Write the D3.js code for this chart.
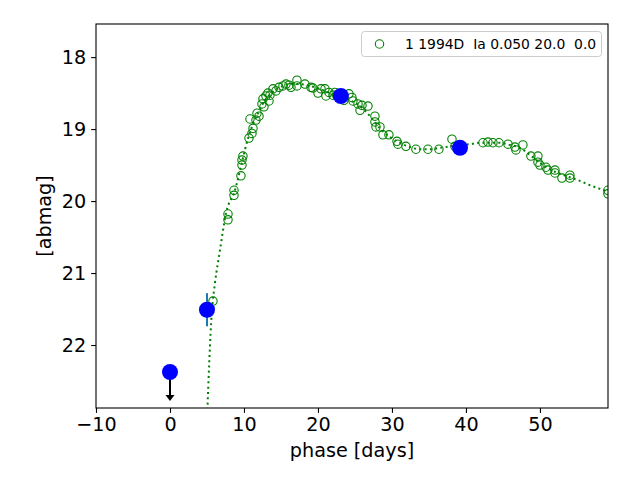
<!DOCTYPE html>
<html>
<head>
<meta charset="utf-8">
<script src="https://cdn.jsdelivr.net/npm/d3@7"></script>
<style>
  body { margin: 0; background: #fff; }
  text { font-family: "DejaVu Sans", sans-serif; }
</style>
</head>
<body>
<div id="chart"></div>
<script>
// observed photometry (phase in days, magnitude)
const obsPhase = [5.81, 7.84, 7.84, 8.65, 8.65, 9.59, 9.73, 9.73, 9.86, 10.68, 10.81, 11.08, 11.22, 11.62, 11.76, 12.03,
  12.43, 12.57, 12.70, 12.97, 13.24, 13.38, 13.51, 13.92, 14.32, 14.73, 15.27, 15.68, 16.08, 16.35, 17.16, 17.16,
  18.24, 19.05, 19.32, 20.0, 20.41, 20.95, 21.08, 21.49, 22.03, 22.30, 22.57, 23.51, 24.19, 24.59, 24.73, 25.41,
  25.68, 25.95, 26.76, 27.70, 27.70, 27.84, 28.38, 28.78, 29.59, 30.68, 30.81, 31.89, 33.24, 34.86, 36.35, 38.11,
  38.51, 42.30, 42.97, 43.65, 44.46, 45.68, 46.62, 46.76, 47.70, 48.78, 49.73, 49.73, 50.0, 50.81, 51.08, 52.03,
  52.03, 52.97, 54.05, 54.05, 59.19, 59.19];
const obsMag = [21.39, 20.18, 20.26, 19.85, 19.92, 19.65, 19.50, 19.43, 19.375, 19.125, 18.86, 19.06, 18.99, 18.875, 18.78, 18.82,
  18.65, 18.58, 18.69, 18.54, 18.50, 18.61, 18.53, 18.44, 18.47, 18.42, 18.40, 18.375, 18.39, 18.42, 18.32, 18.40,
  18.375, 18.42, 18.43, 18.50, 18.44, 18.44, 18.54, 18.49, 18.53, 18.49, 18.54, 18.60, 18.51, 18.56, 18.61, 18.65,
  18.74, 18.67, 18.68, 18.82, 18.90, 18.97, 18.97, 19.08, 19.08, 19.17, 19.21, 19.24, 19.28, 19.28, 19.28, 19.14,
  19.24, 19.19, 19.18, 19.19, 19.19, 19.21, 19.25, 19.29, 19.22, 19.375, 19.375, 19.46, 19.50, 19.53, 19.57, 19.57,
  19.61, 19.68, 19.68, 19.64, 19.85, 19.90];

// template curve
const modelPhase = [5.0, 5.64, 6.08, 6.76, 7.57, 8.78, 9.73, 10.54, 11.22, 11.89, 12.84, 13.78, 14.86, 16.22, 17.57,
  18.92, 20.27, 21.62, 22.97, 24.32, 25.68, 27.03, 28.38, 29.73, 31.08, 32.43, 33.78, 35.14, 36.49, 37.84, 39.19,
  40.54, 41.89, 43.24, 44.59, 45.95, 47.30, 48.65, 50.0, 51.35, 52.70, 54.05, 55.41, 56.76, 58.11, 59.73];
const modelMag = [23.05, 21.56, 21.14, 20.68, 20.17, 19.85, 19.46, 19.13, 18.93, 18.78, 18.60, 18.49, 18.42, 18.375, 18.375,
  18.40, 18.44, 18.50, 18.54, 18.60, 18.68, 18.82, 18.99, 19.11, 19.19, 19.25, 19.28, 19.28, 19.26, 19.24, 19.22,
  19.21, 19.19, 19.19, 19.19, 19.22, 19.26, 19.36, 19.47, 19.56, 19.62, 19.67, 19.72, 19.78, 19.83, 19.89];

// new points (blue)
const newPhase = [0, 5.0, 23.1, 39.2];
const newMag = [22.375, 21.51, 18.54, 19.26];
const newErr = [0, 0.23, 0, 0];
const upperLimit = [true, false, false, false];

const xTicks = [-10, 0, 10, 20, 30, 40, 50];
const yTicks = [18, 19, 20, 21, 22];
const legendLabel = "1 1994D  Ia 0.050 20.0  0.0";

const W = 640, H = 480;
const margin = {left: 96, top: 24, right: 32, bottom: 72};
const w = W - margin.left - margin.right;
const h = H - margin.top - margin.bottom;

const svg = d3.select("#chart").append("svg")
    .attr("width", W)
    .attr("height", H);

const x = d3.scaleLinear().domain([-10, 59.2]).range([0, w]);
const y = d3.scaleLinear().domain([17.54, 22.875]).range([0, h]);

const g = svg.append("g")
    .attr("transform", "translate(" + margin.left + "," + margin.top + ")");

g.append("clipPath").attr("id", "clip")
  .append("rect").attr("width", w).attr("height", h);

const plot = g.append("g").attr("clip-path", "url(#clip)");

// model curve
let model = modelPhase.map((p, i) => ({p: p, m: modelMag[i]}));
let line = d3.line()
    .x(d => x(d.p))
    .y(d => y(d.m))
    .curve(d3.curveMonotoneX);
plot.append("path")
    .datum(model)
    .attr("d", line)
    .attr("fill", "none")
    .attr("stroke", "#008000")
    .attr("stroke-width", 2)
    .attr("stroke-dasharray", "2,3.3");

// observed points
let obs = obsPhase.map((p, i) => ({p: p, m: obsMag[i]}));
plot.selectAll(".obs")
    .data(obs)
    .join("circle")
    .attr("class", "obs")
    .attr("cx", d => x(d.p))
    .attr("cy", d => y(d.m))
    .attr("r", 4.2)
    .attr("fill", "none")
    .attr("stroke", "#008000")
    .attr("stroke-width", 1.1);

// new points with errors / limits
let pts = newPhase.map((p, i) => ({p: p, m: newMag[i], e: newErr[i], lim: upperLimit[i]}));
plot.selectAll(".err")
    .data(pts.filter(d => d.e > 0))
    .join("line")
    .attr("class", "err")
    .attr("x1", d => x(d.p)).attr("x2", d => x(d.p))
    .attr("y1", d => y(d.m - d.e)).attr("y2", d => y(d.m + d.e))
    .attr("stroke", "#1f77b4")
    .attr("stroke-width", 2);

let lims = pts.filter(d => d.lim);
plot.selectAll(".limline")
    .data(lims)
    .join("line")
    .attr("class", "limline")
    .attr("x1", d => x(d.p)).attr("x2", d => x(d.p))
    .attr("y1", d => y(d.m)).attr("y2", d => y(d.m + 0.33))
    .attr("stroke", "#000")
    .attr("stroke-width", 2);
plot.selectAll(".limhead")
    .data(lims)
    .join("path")
    .attr("class", "limhead")
    .attr("transform", d => "translate(" + x(d.p) + "," + y(d.m + 0.36) + ")")
    .attr("d", "M-4.5,-3L4.5,-3L0,3Z")
    .attr("fill", "#000");

plot.selectAll(".newpt")
    .data(pts)
    .join("circle")
    .attr("class", "newpt")
    .attr("cx", d => x(d.p))
    .attr("cy", d => y(d.m))
    .attr("r", 8)
    .attr("fill", "#0000ff");

// axes
let xAxis = g.append("g")
    .attr("transform", "translate(0," + h + ")")
    .call(d3.axisBottom(x).tickValues(xTicks).tickSize(4.9).tickPadding(4)
      .tickFormat(d => d < 0 ? "\u2212" + Math.abs(d) : d));
let yAxis = g.append("g")
    .call(d3.axisLeft(y).tickValues(yTicks).tickSize(4.9).tickPadding(5)
      .tickFormat(d3.format("d")));
[xAxis, yAxis].forEach(a => {
  a.select(".domain").remove();
  a.selectAll("line").attr("stroke", "#000").attr("stroke-width", 1.1);
  a.selectAll("text").attr("font-size", "19.2px").attr("fill", "#000")
    .attr("font-family", "DejaVu Sans, sans-serif");
});

g.append("rect")
    .attr("width", w).attr("height", h)
    .attr("fill", "none")
    .attr("stroke", "#000")
    .attr("stroke-width", 1.1);

// labels
svg.append("text")
    .attr("x", margin.left + w / 2)
    .attr("y", 457)
    .attr("text-anchor", "middle")
    .attr("font-size", "19.2px")
    .text("phase [days]");
svg.append("text")
    .attr("transform", "translate(51," + (margin.top + h / 2) + ") rotate(-90)")
    .attr("text-anchor", "middle")
    .attr("font-size", "19.2px")
    .text("[abmag]");

// legend
let lg = svg.append("g").attr("transform", "translate(361.5,31.5)");
lg.append("rect")
    .attr("width", 240).attr("height", 25)
    .attr("rx", 3)
    .attr("fill", "#fff").attr("fill-opacity", 0.8)
    .attr("stroke", "#cccccc");
lg.append("circle")
    .attr("cx", 18).attr("cy", 12.5).attr("r", 4.2)
    .attr("fill", "none").attr("stroke", "#008000").attr("stroke-width", 1.1);
lg.append("text")
    .attr("x", 43.5).attr("y", 17.5)
    .attr("font-size", "13.9px")
    .style("white-space", "pre")
    .text(legendLabel);
</script>
</body>
</html>
